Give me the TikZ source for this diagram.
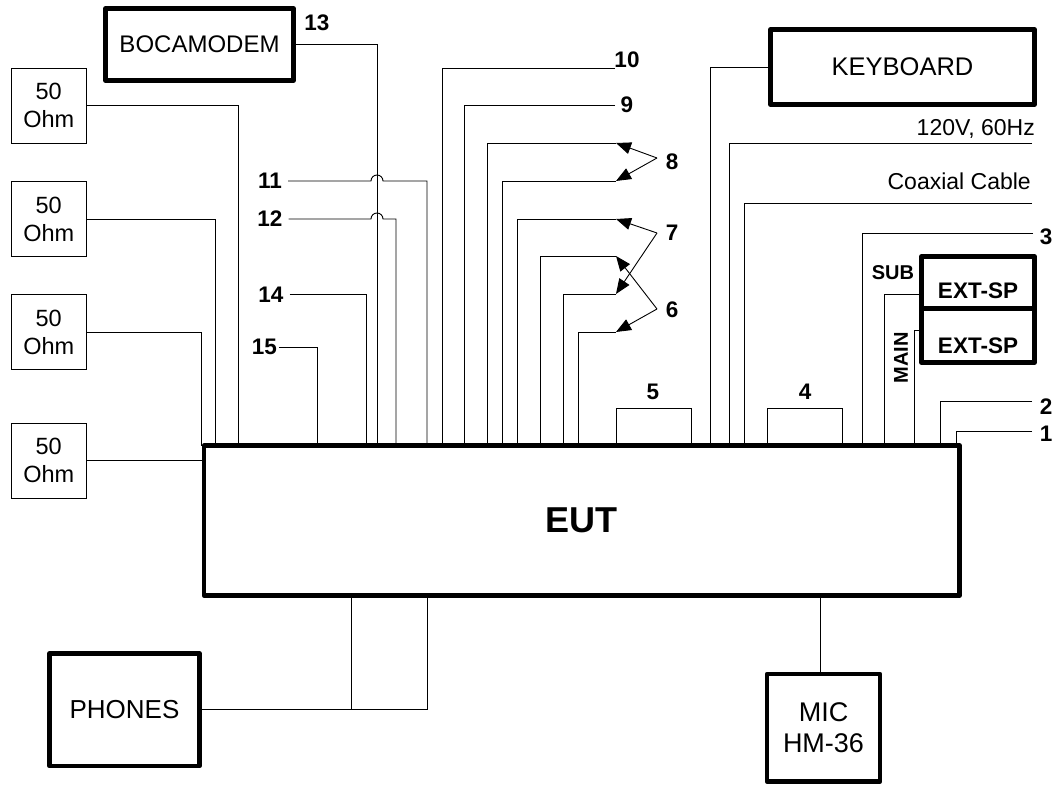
\documentclass[tikz,border=0pt]{standalone}
\usepackage{fontspec}
\setmainfont{Liberation Sans}
\usetikzlibrary{arrows.meta, positioning}

\begin{document}
\begin{tikzpicture}[x=1pt, y=-1pt,
    wire/.style={line width=0.9pt},
    thinbox/.style={draw, line width=0.9pt, align=center, inner sep=0pt,
        font=\fontsize{23.5pt}{28pt}\selectfont},
    thickbox/.style={draw, line width=4.5pt, line join=round, align=center, inner sep=0pt},
    num/.style={inner sep=1pt, font=\fontsize{22.5pt}{22.5pt}\selectfont\bfseries},
    spname/.style={font=\fontsize{22.5pt}{22.5pt}\selectfont\bfseries},
    note/.style={inner sep=0pt, font=\fontsize{23pt}{23pt}\selectfont},
    pointer/.style={line width=0.9pt, -{Triangle[length=15pt,width=12pt]}},
]
\useasboundingbox (0,0) rectangle (1058,786);

\node[thickbox, minimum width=755.5pt, minimum height=150pt,
    font=\fontsize{36pt}{36pt}\selectfont\bfseries] (eut) at (581.75,520.5) {EUT};

\node[thickbox, minimum width=188pt, minimum height=72pt,
    font=\fontsize{24pt}{24pt}\selectfont] (modem) at (199.5,44.5) {BOCAMODEM};
\node[thickbox, minimum width=264pt, minimum height=75pt,
    font=\fontsize{25.5pt}{25.5pt}\selectfont] (keyboard) at (902.5,67) {KEYBOARD};
\node[thickbox, minimum width=150pt, minimum height=112.5pt,
    font=\fontsize{26pt}{26pt}\selectfont] (phones) at (124.5,709.75) {PHONES};
\node[thickbox, minimum width=113pt, minimum height=107.5pt,
    font=\fontsize{27pt}{31pt}\selectfont] (mic) at (823.5,727.75) {MIC\\HM-36};
\node[thickbox, minimum width=113pt, minimum height=52pt,
    label={[spname, yshift=-8pt]center:EXT-SP}] (extsub) at (978,282.5) {};
\node[thickbox, minimum width=113pt, minimum height=54pt,
    label={[spname, yshift=-10pt]center:EXT-SP}] (extmain) at (978,335.5) {};

\foreach \i/\y in {A/105.5, B/219, C/332, D/460.5}
    \node[thinbox, minimum width=75.5pt, minimum height=75pt] (ohm\i) at (48.75,\y) {50\\Ohm};

% connection points on the EUT
\foreach \n/\x in {oA/238, oB/215, oC/201, 15/317, 14/366, 13/377, 12/396, 11/427,
        10/442, 9/464, 8a/487, 8b/502, 7a/517, 6a/540, 7b/563, 6b/578, 5a/616, 5b/691,
        kb/710, ac/729, cx/744, 4a/767, 4b/842, 3/862, sub/884, main/914, 2/940, 1/956}
    \coordinate (p\n) at (\x,445.5);
\coordinate (qph1) at (351,595.5);
\coordinate (qph2) at (427,595.5);
\coordinate (qmic) at (820,595.5);

\draw[wire] (ohmA.east) -| (poA);
\draw[wire] (ohmB.east) -| (poB);
\draw[wire] (ohmC.east) -| (poC);
\draw[wire] (ohmD.east) -- (ohmD.east -| eut.west);
\draw[wire] (modem.east) -| (p13);

\node[num] (n13) at (317,22.5) {13};
\node[num] (n11) at (270,181) {11};
\node[num] (n12) at (270,219) {12};
\node[num] (n14) at (271,294.5) {14};
\node[num] (n15) at (264.5,347) {15};

% hops over line 13
\coordinate (j11) at (371,181);
\coordinate (j12) at (371,219);
\draw[wire] ([xshift=5pt]n11.east) -- (j11) arc[start angle=180, end angle=0, radius=6pt] -| (p11);
\draw[wire] ([xshift=5pt]n12.east) -- (j12) arc[start angle=180, end angle=0, radius=6pt] -| (p12);
\draw[wire] ([xshift=5pt]n14.east) -| (p14);
\draw[wire] ([xshift=1pt]n15.east) -| (p15);

\coordinate (e10) at (615,68);
\coordinate (e9) at (615,105);
\draw[wire] (e10) -| (p10);
\draw[wire] (e9) -| (p9);
\node[num] (n10) at (627,59.5) {10};
\node[num] (n9) at (627,105) {9};

\foreach \n/\y in {8a/143, 8b/181, 7a/219, 6a/256, 7b/294, 6b/332} {
    \coordinate (e\n) at (616,\y);
    \draw[wire] (e\n) -| (p\n);
}
\node[num] (n8) at (672,162) {8};
\node[num] (n7) at (672,233) {7};
\node[num] (n6) at (672,310) {6};
\coordinate (k8) at (657,158);
\coordinate (k7) at (657,233);
\coordinate (k6) at (657,309);
\draw[pointer] (k8) -- (e8a);
\draw[pointer] (k8) -- (e8b);
\draw[pointer] (k7) -- (e7a);
\draw[pointer] (k7) -- (e7b);
\draw[pointer] (k6) -- (e6a);
\draw[pointer] (k6) -- (e6b);

\draw[wire] (p5a) -- ++(0,-37) -| (p5b);
\node[num] (n5) at (653,392) {5};
\draw[wire] (p4a) -- ++(0,-37) -| (p4b);
\node[num] (n4) at (805,392) {4};

\draw[wire] (keyboard.west) -| (pkb);
\coordinate (eac) at (1032,143);
\coordinate (ecx) at (1032,203);
\draw[wire] (eac) -| (pac);
\draw[wire] (ecx) -| (pcx);
\node[note, anchor=base east] (nac) at (1035,136) {120V, 60Hz};
\node[note, anchor=base east] (ncx) at (1031,190) {Coaxial Cable};

\coordinate (e3) at (1033,233);
\coordinate (e2) at (1032,401);
\coordinate (e1) at (1032,431);
\draw[wire] (e3) -| (p3);
\draw[wire] (e2) -| (p2);
\draw[wire] (e1) -| (p1);
\node[num] (n3) at (1046,237) {3};
\node[num] (n2) at (1046,407) {2};
\node[num] (n1) at (1046,434) {1};

\draw[wire] ([yshift=-11.5pt]extsub.west) -| (psub);
\draw[wire] ([yshift=5.5pt]extmain.west) -| (pmain);
\node[num, font=\fontsize{20pt}{20pt}\selectfont\bfseries] (nsub) at (893,273) {SUB};
\node[num, rotate=90, font=\fontsize{20pt}{20pt}\selectfont\bfseries] (nmain) at (901,358) {MAIN};

\draw[wire] (phones.east) -| (qph2);
\draw[wire] (qph1) -- (qph1 |- phones.east);
\draw[wire] (qmic) -- (qmic |- mic.north);
\end{tikzpicture}
\end{document}
